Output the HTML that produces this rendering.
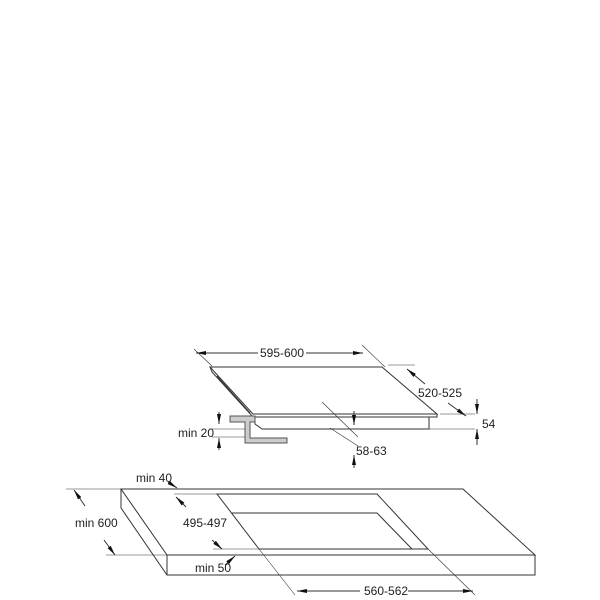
<!DOCTYPE html>
<html><head><style>
html,body{margin:0;padding:0;background:#fff;}
svg{display:block;}
text{font-family:"Liberation Sans",sans-serif;font-size:12px;fill:#222;}
</style></head><body>
<svg width="600" height="600" viewBox="0 0 600 600" xmlns="http://www.w3.org/2000/svg">
<defs>
<marker id="a" viewBox="0 0 10 4" refX="10" refY="2" markerWidth="10" markerHeight="4" orient="auto" markerUnits="userSpaceOnUse"><path d="M0,0 L10,2 L0,4 Z" fill="#111"/></marker>
</defs>
<g fill="none" stroke="#333" stroke-width="1">
<path d="M210,367 L382,367 L437,414 L253,414 Z"/>
<path d="M210,367 L212,372 L253,417 L437,417 L437,414"/>
<path d="M217,376 L250,413"/>
<path d="M255,417 L255,424 L262,429 L429,429 L429,417"/>
<path d="M230,416 L255,416 L255,422 L250,422 L250,438 L287,438 L287,443 L245,443 L245,422 L230,422 Z" fill="#ccc" stroke="#555"/>
<path d="M194,349 L212,366" stroke-width="0.6"/>
<path d="M362,345 L385,367" stroke-width="0.6"/>
<path d="M258,353 L196,353" marker-end="url(#a)"/>
<path d="M306,353 L363,353" marker-end="url(#a)"/>
<path d="M388,365 L415,365" stroke-width="0.6"/>
<path d="M440,414 L475,414" stroke-width="0.6"/>
<path d="M425,384 L407,369" marker-end="url(#a)"/>
<path d="M448,403 L466,416" marker-end="url(#a)"/>
<path d="M429,429 L475,429" stroke-width="0.6"/>
<path d="M477,399 L477,414" marker-end="url(#a)"/>
<path d="M477,445 L477,429" marker-end="url(#a)"/>
<path d="M322,402 L358,437" stroke-width="0.6"/>
<path d="M330,428 L358,446" stroke-width="0.6"/>
<path d="M354,411 L354,425" marker-end="url(#a)"/>
<path d="M354,468 L354,455" marker-end="url(#a)"/>
<path d="M212,429 L245,429 M212,437 L245,437" stroke-width="0.6"/>
<path d="M219,412 L219,424" marker-end="url(#a)"/>
<path d="M219,450 L219,438" marker-end="url(#a)"/>
<path d="M121,489 L463,489 L535,555 L167,555 Z"/>
<path d="M121,489 L121,508 L167,575 L535,575 L535,555 M167,555 L167,575"/>
<path d="M217,494 L377,494 L428,549 L259,549 Z"/>
<path d="M232,513 L377,513 L412,549"/>
<path d="M259,549 L295,595 M428,549 L475,595" stroke-width="0.6"/>
<path d="M360,591 L297,591" marker-end="url(#a)"/>
<path d="M408,591 L473,591" marker-end="url(#a)"/>
<path d="M66,489 L121,489 M106,555 L167,555" stroke-width="0.6"/>
<path d="M85,506 L74,490" marker-end="url(#a)"/>
<path d="M104,540 L115,555" marker-end="url(#a)"/>
<path d="M174,494 L217,494 M213,549 L259,549" stroke-width="0.6"/>
<path d="M186,507 L176,497" marker-end="url(#a)"/>
<path d="M212,540 L222,549" marker-end="url(#a)"/>
<path d="M168,482 L177,488" marker-end="url(#a)"/>
<path d="M225,565 L235,556" marker-end="url(#a)"/>
</g>
<text x="282" y="357" text-anchor="middle">595-600</text>
<text x="440" y="397" text-anchor="middle">520-525</text>
<text x="482" y="428">54</text>
<text x="356" y="455">58-63</text>
<text x="178" y="437">min 20</text>
<text x="136" y="482">min 40</text>
<text x="75" y="527">min 600</text>
<text x="183" y="527">495-497</text>
<text x="195" y="572">min 50</text>
<text x="364" y="595">560-562</text>
</svg>
</body></html>
